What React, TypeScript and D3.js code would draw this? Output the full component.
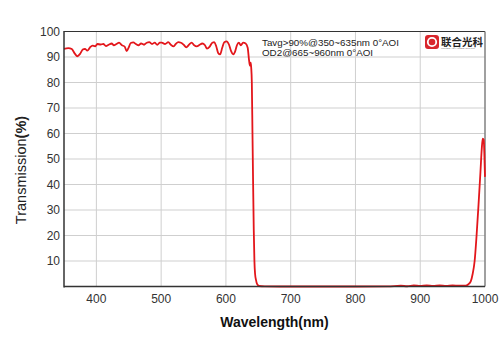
import * as React from "react";
import * as d3 from "d3";

// Transmission curve
const wavelengths = [
  350, 356.7, 362, 367, 370.6, 374.8, 379, 382.4, 386, 390, 394, 398, 401.5, 406.6, 410.7, 414.8,
  419, 423.6, 427, 431, 435, 439.5, 443.7, 446.7, 450, 453, 457, 461, 465, 469, 473.5, 477.7,
  481.7, 486, 490, 494, 498, 501, 506, 511, 515, 519.4, 522.5, 526.5, 530.6, 534.8, 538.8, 543,
  547, 551, 555, 559.5, 563.5, 567.7, 570.8, 575, 579, 582, 585, 588, 591, 594.3, 597.5, 601,
  604.8, 608, 611, 614, 617, 620, 623, 626.5, 630.5, 633.6, 635.6, 637, 638.2, 639, 640, 641,
  642, 643, 644, 645, 646.5, 648, 651, 660, 700, 800, 850, 870, 880, 890, 900, 910, 920, 930,
  940, 950, 960, 965, 970, 974, 978, 981, 984, 987, 990, 993, 995, 996.5, 998, 999, 1000,
];
const transmission = [
  93.2, 93.5, 93.1, 91.2, 90.3, 91.2, 92.9, 93.2, 92.5, 93.7, 94.5, 94.2, 95.1, 94.9, 95.1, 94.3,
  94.8, 95.3, 94.6, 95.1, 95.6, 94.6, 94.1, 92.3, 93.8, 95.5, 95.7, 95.1, 94.6, 95.3, 94.8, 95.6,
  95.8, 95.1, 95.6, 94.8, 95.6, 95.6, 95.1, 95.8, 94.8, 94.2, 95.1, 95.8, 95.6, 94.8, 93.8, 94.8,
  95.6, 94.6, 94.2, 94.8, 95.3, 94.6, 93.3, 94.1, 95.6, 95.8, 94.2, 91.6, 91.0, 93.6, 95.8, 96.1,
  94.8, 92.3, 91.0, 92.0, 94.6, 95.6, 94.6, 95.6, 95.3, 93.6, 89.0, 86.6, 87.8, 86.0, 80, 60,
  40, 22, 10, 5, 2.5, 1, 0.2, 0.05, 0, 0, 0.05, 0.3, 0.1, 0.4, 0.2, 0.4, 0.2, 0.4, 0.2,
  0.4, 0.3, 0.3, 0.3, 0.8, 2, 5, 10, 20, 32, 45, 54, 58, 57.5, 52, 43, 35,
];

const xTicks = [400, 500, 600, 700, 800, 900, 1000];
const yTicks = [10, 20, 30, 40, 50, 60, 70, 80, 90, 100];
const notes = ["Tavg>90%@350~635nm 0°AOI", "OD2@665~960nm 0°AOI"];

const W = 500;
const H = 353;
const m = { left: 64, right: 15, top: 31.5, bottom: 66.5 };
const font = "'Liberation Sans', Arial, sans-serif";

export default function App() {
  const x = d3.scaleLinear().domain([350, 1000]).range([m.left, W - m.right]);
  const y = d3.scaleLinear().domain([0, 100]).range([H - m.bottom, m.top]);

  const pts = wavelengths.map((w, i) => [w, transmission[i]] as [number, number]);
  const line = d3
    .line<[number, number]>()
    .x((d) => x(d[0]))
    .y((d) => y(d[1]))
    .curve(d3.curveMonotoneX);

  const x0 = x(350);
  const x1 = x(1000);
  const y0 = y(0);
  const y1 = y(100);

  return (
    <svg
      width={W}
      height={H}
      style={{ position: "absolute", left: 0, top: 0, background: "#fff" }}
      fontFamily={font}
    >
      <rect width={W} height={H} fill="#fff" />

      {/* grid */}
      {xTicks
        .filter((t) => t < 1000)
        .map((t) => (
          <line key={"gx" + t} x1={x(t)} x2={x(t)} y1={y1} y2={y0} stroke="#cfcfcf" strokeWidth={1} />
        ))}
      {yTicks
        .filter((t) => t < 100)
        .map((t) => (
          <line key={"gy" + t} x1={x0} x2={x1} y1={y(t)} y2={y(t)} stroke="#cfcfcf" strokeWidth={1} />
        ))}

      {/* frame */}
      <line x1={x0} x2={x1} y1={y1} y2={y1} stroke="#333" strokeWidth={1} />
      <line x1={x1} x2={x1} y1={y1} y2={y0} stroke="#808080" strokeWidth={1.5} />

      {/* notes */}
      {notes.map((n, i) => (
        <text key={n} x={262} y={45.5 + i * 10.5} fontSize={9.8} fill="#222">
          {n}
        </text>
      ))}

      {/* logo */}
      <g>
        <rect x={425} y={35} width={14} height={14} rx={3} fill="#d9262c" />
        <circle cx={432} cy={42} r={4.2} fill="none" stroke="#fff" strokeWidth={1.8} />
        <text
          x={441}
          y={45.5}
          fontSize={10.5}
          fontWeight="bold"
          fill="#222"
          fontFamily="'Noto Sans CJK SC', sans-serif"
        >
          联合光科
        </text>
        <text x={441} y={49} fontSize={2.5} fill="#777">
          UNITED ADVANCED OPTICS
        </text>
      </g>

      {/* curve */}
      <path d={line(pts) ?? ""} fill="none" stroke="#e3161b" strokeWidth={1.8} strokeLinejoin="round" />

      {/* axes */}
      <line x1={x0} x2={x0} y1={y1 - 0.5} y2={y0 + 1} stroke="#333" strokeWidth={1.5} />
      <line x1={x0} x2={x1} y1={y0} y2={y0} stroke="#333" strokeWidth={1.5} />

      {/* tick labels */}
      {yTicks.map((t) => (
        <text key={"ty" + t} x={60} y={y(t) + 4.3} fontSize={12} textAnchor="end" fill="#333">
          {t}
        </text>
      ))}
      {xTicks.map((t) => (
        <text key={"tx" + t} x={x(t)} y={302.5} fontSize={12} textAnchor="middle" fill="#333">
          {t}
        </text>
      ))}

      {/* titles */}
      <text
        transform={`translate(26,${(y0 + y1) / 2 + 11}) rotate(-90)`}
        textAnchor="middle"
        fontSize={14.5}
        fill="#222"
      >
        Transmission<tspan fontWeight="bold">(%)</tspan>
      </text>
      <text x={(x0 + x1) / 2} y={326.5} textAnchor="middle" fontSize={14} fontWeight="bold" fill="#111">
        Wavelength(nm)
      </text>
    </svg>
  );
}
